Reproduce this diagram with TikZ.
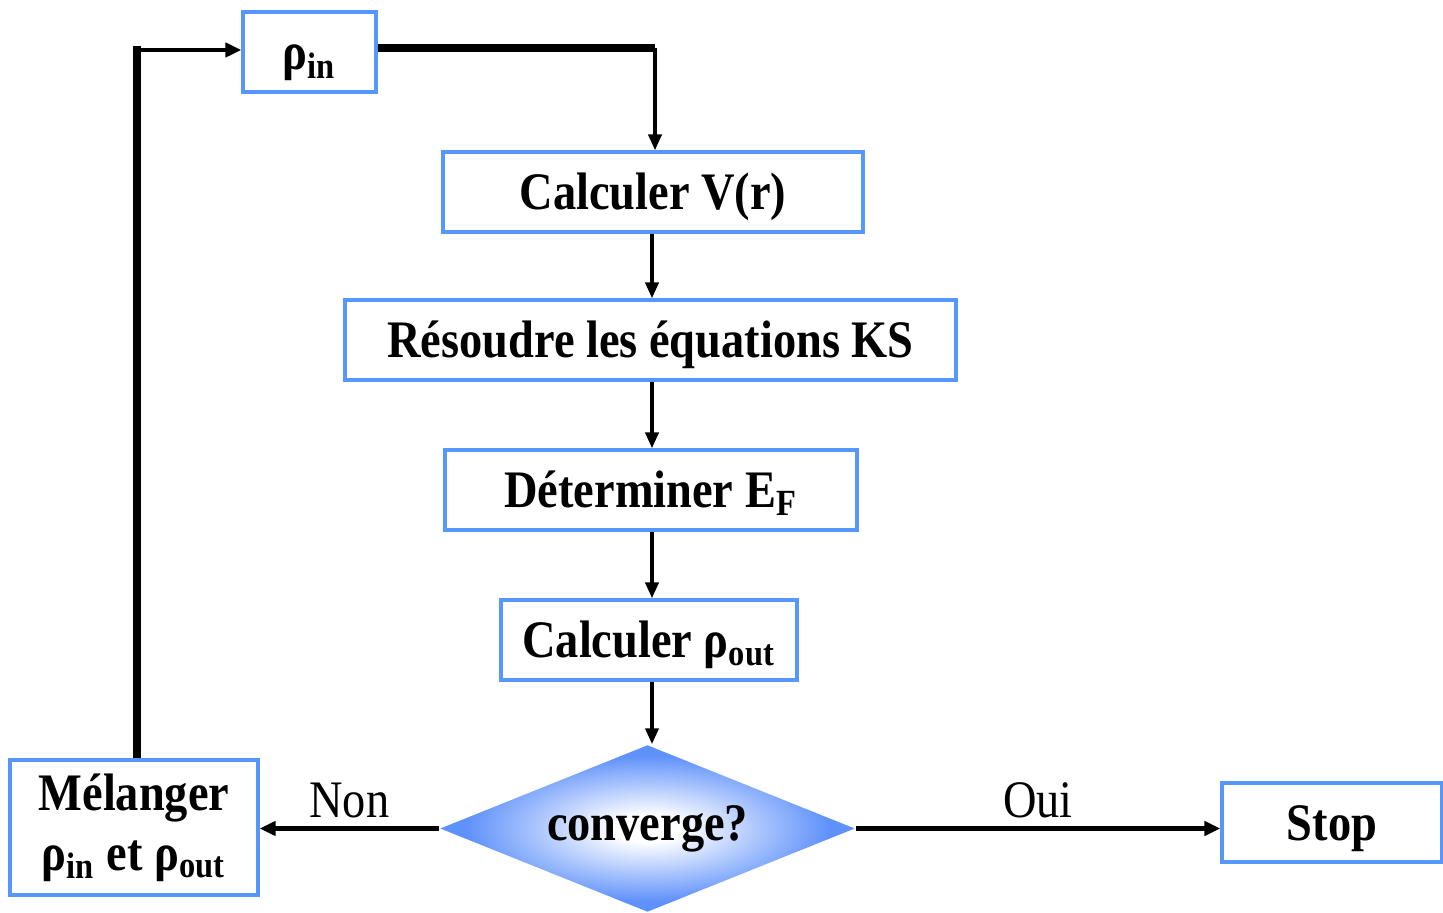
\documentclass[tikz,border=0pt]{standalone}
\usepackage{fontspec}
\setmainfont{Liberation Serif}[FakeStretch=0.88]
\usetikzlibrary{shapes.geometric,arrows.meta}
\definecolor{boxblue}{RGB}{85,150,255}
\definecolor{diablue}{RGB}{95,145,250}
\pgfdeclareradialshading{convshade}{\pgfpoint{0bp}{0bp}}{color(0bp)=(white); color(4bp)=(white); color(22bp)=(diablue); color(50bp)=(diablue)}
\tikzset{
  etape/.style={draw=boxblue, line width=0.9pt, minimum height=0.8cm, inner sep=0pt,
                text height=0.38cm, text depth=0.02cm, font=\fontsize{15}{17}\selectfont\bfseries},
  fleche/.style={line width=1.1pt, -{Triangle[length=0.16cm,width=0.13cm]}},
  lien/.style={line width=1.2pt, -{Triangle[length=0.16cm,width=0.14cm]}},
  txt/.style={font=\fontsize{15}{17}\selectfont},
}
\begin{document}
\begin{tikzpicture}
    \useasboundingbox (0,0) rectangle (14.43,-9.13);

    \node[etape, minimum width=1.33cm] (pin) at (3.095,-0.52) {ρ\textsubscript{in}};
    \node[etape, minimum width=4.20cm] (calcV) at (6.53,-1.92) {Calculer V(r)};
    \node[etape, minimum width=6.11cm] (resoudre) at (6.505,-3.40) {Résoudre les équations KS};
    \node[etape, minimum width=4.12cm] (determ) at (6.51,-4.90) {Déterminer E\textsubscript{F}};
    \node[etape, minimum width=2.96cm] (calcout) at (6.49,-6.40) {Calculer ρ\textsubscript{out}};
    \node[diamond, shading=convshade, aspect=2.5, inner sep=0pt, minimum width=4.15cm, minimum height=1.67cm,
          font=\fontsize{15}{17}\selectfont\bfseries] (conv) at (6.475,-8.285) {converge?};
    \node[etape, text height={}, text depth={}, minimum width=2.48cm, minimum height=1.35cm, align=center]
          (melange) at (1.34,-8.275) {Mélanger\\ρ\textsubscript{in} et ρ\textsubscript{out}};
    \node[etape, minimum width=2.20cm, minimum height=0.79cm] (stop) at (13.32,-8.225) {Stop};

    \coordinate (k1) at (6.55,-0.48);
    \draw[line width=2pt] (pin.east |- k1) -- (k1);
    \draw[fleche] (k1) -- (k1 |- calcV.north);

    \coordinate (axe) at (6.52,0);
    \foreach \a/\b in {calcV/resoudre, resoudre/determ, determ/calcout, calcout/conv} {
        \draw[fleche] (axe |- \a.south) -- (axe |- \b.north);
    };

    \draw[lien] (conv.west) -- node[above=-1pt, txt] {Non} (melange.east |- conv.west);
    \draw[lien] (conv.east) -- node[above=-1pt, txt] {Oui} (stop.west |- conv.east);

    \coordinate (k2) at (1.37,-0.50);
    \draw[line width=2pt] (k2 |- melange.north) -- ([yshift=1pt]k2);
    \draw[lien] (k2) -- (pin.west |- k2);
\end{tikzpicture}
\end{document}
